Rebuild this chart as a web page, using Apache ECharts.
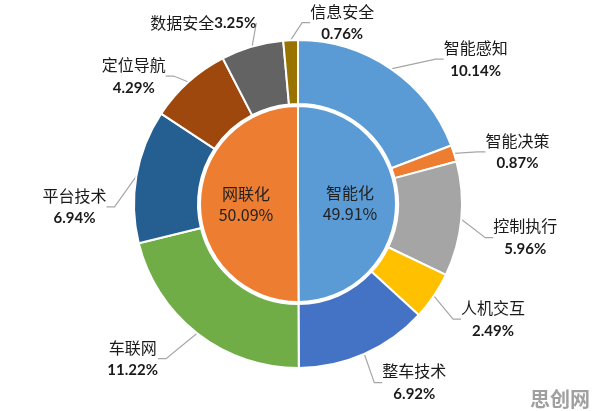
<!DOCTYPE html>
<html><head><meta charset="utf-8">
<script src="https://cdn.jsdelivr.net/npm/echarts@6/dist/echarts.min.js"></script>
<style>html,body{margin:0;padding:0;background:#fff}#c{width:596px;height:411px}</style>
</head><body><div id="c"></div>
<script>
var innerNames = ['智能化', '网联化'];
var innerValues = [49.91, 50.09];
var innerColors = ['#5B9BD5', '#ED7D31'];
var outerNames = ['智能感知', '智能决策', '控制执行', '人机交互', '整车技术', '车联网', '平台技术', '定位导航', '数据安全', '信息安全'];
var outerValues = [10.14, 0.87, 5.96, 2.49, 6.92, 11.22, 6.94, 4.29, 3.25, 0.76];
var outerColors = ['#5B9BD5', '#ED7D31', '#A5A5A5', '#FFC000', '#4472C4', '#70AD47', '#255E91', '#9E480E', '#636363', '#997300'];
// label nudges (px) relative to the default ECharts outside-label position
var labelNudges = [[27, -1], [2, 2], [2, 18], [-1, 18], [-6, 20], [-13, 18], [0, 33], [4, 2], [27, -14], [104, -7]];
var inlineLabel = [false, false, false, false, false, false, false, false, true, false];

var chart = echarts.init(document.getElementById('c'));
var nameFont = '"Noto Sans CJK SC", "Noto Sans", sans-serif';
var pctFont = 'Lato, "Open Sans", sans-serif';
var CX = 298, CY = 204;
chart.setOption({
  animation: false,
  title: {
    text: '{w|思创网}', right: 4, bottom: 2, padding: 2,
    textStyle: {
      rich: { w: { fontSize: 20, fontWeight: 'bold', color: '#a0a0a0', fontFamily: nameFont, lineHeight: 24 } }
    }
  },
  series: [
    {
      type: 'pie', center: [CX, CY], radius: [0, 98], startAngle: 90,
      avoidLabelOverlap: false,
      itemStyle: { borderColor: '#fff', borderWidth: 2 },
      label: {
        position: 'inside', color: '#222', fontFamily: nameFont, fontSize: 16, lineHeight: 21,
        formatter: function (p) { return p.name + '\n' + p.value.toFixed(2) + '%'; }
      },
      data: innerNames.map(function (n, i) { return { name: n, value: innerValues[i], itemStyle: { color: innerColors[i] } }; })
    },
    {
      type: 'pie', center: [CX, CY], radius: [100, 164], startAngle: 90,
      avoidLabelOverlap: false,
      itemStyle: { borderColor: '#fff', borderWidth: 2 },
      labelLine: { length: 10, length2: 8, lineStyle: { color: '#a6a6a6', width: 1.2 } },
      label: {
        color: '#1a1a1a', padding: [3, 7], distanceToLabelLine: 5,
        formatter: function (p) {
          var sep = inlineLabel[p.dataIndex] ? '' : '\n';
          return '{n|' + p.name + '}' + sep + '{p|' + p.value.toFixed(2) + '%}';
        },
        rich: {
          n: { fontFamily: nameFont, fontSize: 16, lineHeight: 23, color: '#1a1a1a', align: 'center' },
          p: { fontFamily: pctFont, fontSize: 15, fontWeight: 'bold', lineHeight: 23, color: '#1a1a1a', align: 'center' }
        }
      },
      labelLayout: function (params) {
        if (params.seriesIndex !== 1) return {};
        var r = params.labelRect, d = labelNudges[params.dataIndex];
        return {
          x: r.x + r.width / 2 + d[0],
          y: r.y + r.height / 2 + d[1],
          align: 'center', verticalAlign: 'middle'
        };
      },
      data: outerNames.map(function (n, i) { return { name: n, value: outerValues[i], itemStyle: { color: outerColors[i] } }; })
    }
  ]
});
</script>
</body></html>
